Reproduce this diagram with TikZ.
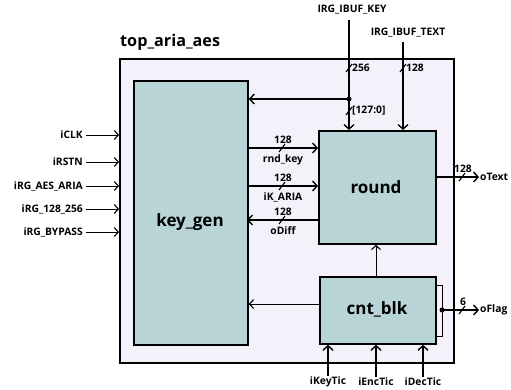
\documentclass[tikz,border=0pt]{standalone}
\usepackage{fontspec}
\setmainfont{Open Sans}
\usetikzlibrary{arrows.meta,calc}
\definecolor{outerfill}{HTML}{F4F1FB}
\definecolor{blkfill}{HTML}{B8D4D7}
\tikzset{
  x=1pt, y=-1pt,
  blk/.style={draw, line width=1.8pt, fill=blkfill, inner sep=0pt},
  sig/.style={line width=1.4pt, -{Straight Barb[length=4.5pt,width=10pt,line width=1.4pt]}},
  thin sig/.style={line width=1pt, -{Straight Barb[length=4pt,width=9pt,line width=1.1pt]}},
  lbl/.style={font=\fontsize{10.3}{12}\selectfont\bfseries, inner sep=1pt},
  big/.style={font=\fontsize{17}{20}\selectfont\bfseries},
  busmark/.style={line width=1.1pt},
}
\newcommand{\vbus}[2]{\draw[busmark] ($(#1)+(-3,4)$) -- ($(#1)+(3,-4)$); \node[lbl, anchor=west] at ($(#1)+(2,0)$) {#2};}
\newcommand{\hbus}[2]{\draw[busmark] ($(#1)+(-3,4)$) -- ($(#1)+(3,-4)$); \node[lbl, anchor=south] at ($(#1)+(1,-3)$) {#2};}
\begin{document}
\begin{tikzpicture}
\useasboundingbox (0,0) rectangle (511,389);
% outer module
\node[draw, line width=1.8pt, fill=outerfill, minimum width=334pt, minimum height=304pt, anchor=north west, inner sep=0pt] (top) at (119,58) {};
\node[font=\fontsize{16.2}{19}\selectfont\bfseries, anchor=west, inner sep=0pt] (toplbl) at (120,42) {top\_aria\_aes};
% blocks
\node[blk, minimum width=114pt, minimum height=264pt, anchor=north west] (kg) at (133,80) {};
\node[big] (kglbl) at (190,222) {key\_gen};
\node[blk, minimum width=117pt, minimum height=113pt, anchor=north west] (rd) at (318,130) {};
\node[big] (rdlbl) at (376,187) {round};
\node[blk, minimum width=116pt, minimum height=67pt, anchor=north west] (cb) at (319,276) {};
\node[big] (cblbl) at (377,309) {cnt\_blk};
% left inputs
\foreach \n/\t/\y in {iclk/iCLK/135, irstn/iRSTN/162, iaes/iRG\_AES\_ARIA/186, i128/iRG\_128\_256/209, ibyp/iRG\_BYPASS/232}{
  \node[lbl, anchor=east] (\n) at (84,\y) {\t};
  \draw[thin sig] ([xshift=2pt]\n.east) -- (\n.east -| top.west);
}
% top inputs
\node[lbl] (ikey) at (352,10) {IRG\_IBUF\_KEY};
\node[lbl] (itext) at (408,33) {IRG\_IBUF\_TEXT};
\coordinate (kx) at (349,20);
\coordinate (tx) at (403,42);
\coordinate (j) at (349,99);
\draw[line width=1.4pt] (kx) -- (j);
\draw[sig] (j) -- (j |- rd.north);
\draw[sig] (tx) -- (tx |- rd.north);
\fill (j) circle (2.5pt);
\draw[sig] (j) -- (j -| kg.east);
\vbus{349,68}{256}
\vbus{403,68}{128}
\vbus{349,111}{[127:0]}
% key_gen <-> round
\coordinate (a1) at (247,148);
\coordinate (a2) at (247,186);
\coordinate (a3) at (247,220);
\draw[sig] (a1) -- (a1 -| rd.west);
\draw[sig] (a2) -- (a2 -| rd.west);
\draw[sig] (a3 -| rd.west) -- (a3);
\hbus{282,148}{128}
\hbus{282,186}{128}
\hbus{282,220}{128}
\node[lbl] (rk) at (283,160) {rnd\_key};
\node[lbl] (ika) at (283,197) {iK\_ARIA};
\node[lbl] (odf) at (283,231) {oDiff};
% cnt_blk -> key_gen, cnt_blk -> round
\coordinate (c1) at (319,304);
\draw[thin sig] (c1) -- (c1 -| kg.east);
\draw[thin sig] (cb.north -| rdlbl) -- (rd.south -| rdlbl);
% oText
\node[lbl, anchor=west] (otext) at (479,177) {oText};
\draw[sig] (otext.west -| rd.east) -- (otext.west);
\hbus{462,177}{128}
% oFlag
\coordinate (b1) at (435,285);
\coordinate (b2) at (442,285);
\coordinate (b3) at (442,336);
\coordinate (b4) at (435,336);
\draw[line width=1pt] (b1) -- (b2) -- (b3) -- (b4);
\coordinate (fj) at (442,310);
\fill (fj) circle (2.5pt);
\node[lbl, anchor=west] (oflag) at (479,310) {oFlag};
\draw[sig] (fj) -- (oflag.west);
\hbus{462,310}{6}
% bottom inputs
\foreach \n/\t/\x in {ikt/iKeyTic/328, iet/iEncTic/376, idt/iDecTic/423}{
  \node[lbl] (\n) at (\x,382) {\t};
  \draw[sig] (\n.north) -- (\n.north |- cb.south);
}
\end{tikzpicture}
\end{document}
